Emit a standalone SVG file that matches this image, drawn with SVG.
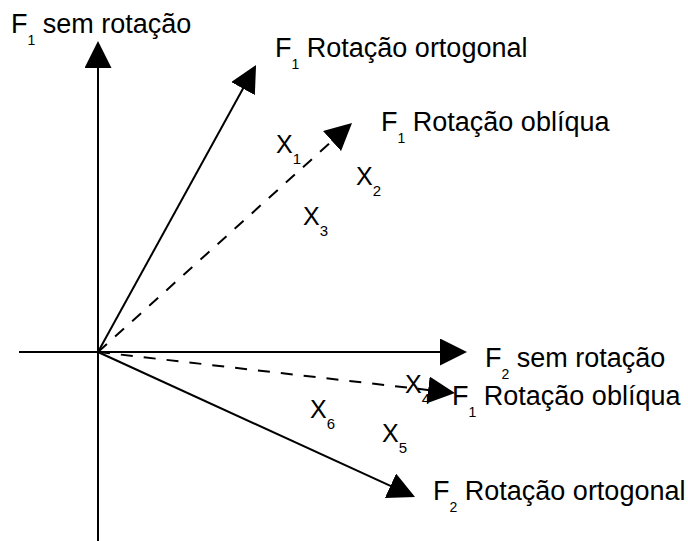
<svg xmlns="http://www.w3.org/2000/svg" width="688" height="541" viewBox="0 0 688 541">
<style>
.ax{stroke:#000;stroke-width:2;fill:none;marker-end:url(#ah)}
.dash{stroke-dasharray:12 11}
text{font-family:"Liberation Sans",Arial,sans-serif;font-size:27px;fill:#000}
.x{font-size:25px}
.sub{font-size:14px}
.x .sub{font-size:15px}
</style>
<defs>
<marker id="ah" viewBox="0 0 27 27" refX="24" refY="13.5" markerWidth="27" markerHeight="27" markerUnits="userSpaceOnUse" orient="auto">
<path d="M0,0 L27,13.5 L0,27 Z" fill="#000"/>
</marker>
</defs>
<rect width="688" height="541" fill="#fff"/>
<g id="connectors">
<line class="ax" x1="98" y1="541" x2="98" y2="44"/>
<line class="ax" x1="19" y1="352" x2="464" y2="352"/>
<line class="ax" x1="98" y1="352" x2="254.6" y2="67.6"/>
<line class="ax dash" x1="98" y1="352" x2="349.8" y2="125"/>
<line class="ax dash" x1="98" y1="352" x2="452" y2="392.7"/>
<line class="ax" x1="98" y1="352" x2="412.3" y2="495.8"/>
</g>
<g id="f1-sem-rotacao"><text x="11" y="33">F<tspan class="sub" dy="12">1</tspan><tspan dy="-12"> sem rotação</tspan></text></g>
<g id="f1-rotacao-ortogonal"><text x="275" y="57">F<tspan class="sub" dy="12">1</tspan><tspan dy="-12"> Rotação ortogonal</tspan></text></g>
<g id="f1-rotacao-obliqua-1"><text x="381" y="131">F<tspan class="sub" dy="12">1</tspan><tspan dy="-12"> Rotação oblíqua</tspan></text></g>
<g id="f2-sem-rotacao"><text x="485" y="367">F<tspan class="sub" dy="12">2</tspan><tspan dy="-12"> sem rotação</tspan></text></g>
<g id="f1-rotacao-obliqua-2"><text x="452" y="405">F<tspan class="sub" dy="12">1</tspan><tspan dy="-12"> Rotação oblíqua</tspan></text></g>
<g id="f2-rotacao-ortogonal"><text x="433" y="500">F<tspan class="sub" dy="12">2</tspan><tspan dy="-12"> Rotação ortogonal</tspan></text></g>
<g id="x1"><text class="x" x="276" y="153">X<tspan class="sub" dy="11">1</tspan></text></g>
<g id="x2"><text class="x" x="356" y="185">X<tspan class="sub" dy="11">2</tspan></text></g>
<g id="x3"><text class="x" x="303" y="225">X<tspan class="sub" dy="11">3</tspan></text></g>
<g id="x4"><text class="x" x="405" y="393">X<tspan class="sub" dy="11">4</tspan></text></g>
<g id="x5"><text class="x" x="382" y="442">X<tspan class="sub" dy="11">5</tspan></text></g>
<g id="x6"><text class="x" x="310" y="418">X<tspan class="sub" dy="11">6</tspan></text></g>
</svg>
